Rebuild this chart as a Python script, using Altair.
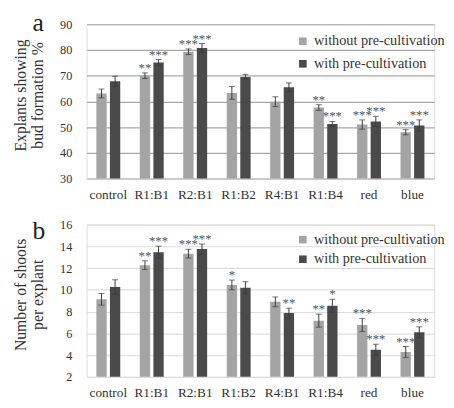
import altair as alt
import pandas as pd

categories = ["control", "R1:B1", "R2:B1", "R1:B2", "R4:B1", "R1:B4", "red", "blue"]
series = ["without pre-cultivation", "with pre-cultivation"]

# Panel a: explants showing bud formation %
a_without = [63.1, 70.0, 79.3, 63.3, 59.9, 57.6, 51.0, 48.0]
a_with = [67.8, 75.1, 80.8, 69.5, 65.5, 51.2, 52.2, 50.6]
a_without_err = [1.7, 1.1, 1.1, 2.5, 1.9, 1.1, 1.8, 1.0]
a_with_err = [2.0, 1.2, 1.7, 1.0, 1.7, 1.0, 2.0, 2.2]
a_without_sig = ["", "**", "***", "", "", "**", "***", "***"]
a_with_sig = ["", "***", "***", "", "", "***", "***", "***"]

# Panel b: number of shoots per explant
b_without = [9.13, 12.27, 13.33, 10.45, 8.9, 7.17, 6.78, 4.29]
b_with = [10.27, 13.47, 13.77, 10.2, 7.87, 8.54, 4.5, 6.1]
b_without_err = [0.53, 0.4, 0.4, 0.45, 0.45, 0.6, 0.6, 0.5]
b_with_err = [0.66, 0.55, 0.45, 0.55, 0.45, 0.6, 0.5, 0.5]
b_without_sig = ["", "**", "***", "*", "", "**", "***", "***"]
b_with_sig = ["", "***", "***", "", "**", "*", "***", "***"]

FONT = "Liberation Serif"
LIGHT = "#a4a4a4"
DARK = "#4a4a4a"
W = 354


def build_df(wo, w, wo_e, w_e, wo_s, w_s):
    rows = []
    for i, c in enumerate(categories):
        for s, v, e, sig in ((series[0], wo[i], wo_e[i], wo_s[i]), (series[1], w[i], w_e[i], w_s[i])):
            rows.append({"category": c, "series": s, "value": v,
                         "lo": v - e, "hi": v + e, "sig": sig})
    return pd.DataFrame(rows)


def panel(df, domain, ticks, ytitle, letter, letter_y, grid_color, height, legend_y, row_pad):
    x_axis = alt.Axis(labelAngle=0, labelFont=FONT, labelFontSize=13.5,
                      labelColor="#333333", labelPadding=9, ticks=False,
                      domain=False, grid=False, title=None)
    x_scale = alt.Scale(paddingInner=0.45, paddingOuter=0.225)
    xo = alt.XOffset("series:N", sort=series,
                     scale=alt.Scale(paddingInner=0.24, paddingOuter=0))
    y_scale = alt.Scale(domain=domain, zero=False, nice=False)
    y_axis = alt.Axis(values=ticks, labelFont=FONT, labelFontSize=12.5,
                      labelColor="#333333", labelPadding=15, ticks=False,
                      domain=False, gridColor=grid_color, gridWidth=1.2,
                      title=None, labelOverlap=False)

    def X():
        return alt.X("category:N", sort=categories, scale=x_scale, axis=x_axis, title=None)

    def Y(field):
        return alt.Y(field, type="quantitative", scale=y_scale, axis=y_axis, title=None)

    base = alt.Chart(df)
    bars = base.mark_bar(clip=True).encode(
        x=X(), xOffset=xo, y=Y("value"),
        color=alt.Color("series:N", sort=series,
                        scale=alt.Scale(domain=series, range=[LIGHT, DARK]),
                        legend=alt.Legend(title=None, orient="none", legendX=213,
                                          legendY=legend_y, symbolType="square",
                                          symbolSize=60, labelFont=FONT,
                                          labelFontSize=14.5, labelColor="#333333",
                                          rowPadding=row_pad, labelOffset=4)),
    )
    rule = base.mark_rule(color="#3a3a3a", strokeWidth=1).encode(
        x=X(), xOffset=xo, y=Y("lo"), y2="hi:Q")
    cap_hi = base.mark_tick(color="#3a3a3a", thickness=1, size=6).encode(
        x=X(), xOffset=xo, y=Y("hi"))
    cap_lo = base.mark_tick(color="#3a3a3a", thickness=1, size=6).encode(
        x=X(), xOffset=xo, y=Y("lo"))
    stars = base.mark_text(font=FONT, fontSize=13, color="#555555",
                           baseline="alphabetic", dy=-1).encode(
        x=X(), xOffset=xo, y=Y("hi"), text="sig:N")
    t1 = alt.Chart(pd.DataFrame({"t": [ytitle[0]]})).mark_text(
        font=FONT, fontSize=16, color="#333333", angle=270, align="center",
        baseline="middle").encode(
        text="t:N", x=alt.value(-67), y=alt.value(height / 2 - 6))
    t2 = alt.Chart(pd.DataFrame({"t": [ytitle[1]]})).mark_text(
        font=FONT, fontSize=16, color="#333333", angle=270, align="center",
        baseline="middle").encode(
        text="t:N", x=alt.value(-49), y=alt.value(height / 2 - 6))
    lab = alt.Chart(pd.DataFrame({"t": [letter]})).mark_text(
        font=FONT, fontSize=26, color="#222222", align="left",
        baseline="alphabetic").encode(
        text="t:N", x=alt.value(-55), y=alt.value(letter_y))
    return alt.layer(bars, rule, cap_hi, cap_lo, stars, t1, t2, lab).properties(
        width=W, height=height)


df_a = build_df(a_without, a_with, a_without_err, a_with_err, a_without_sig, a_with_sig)
df_b = build_df(b_without, b_with, b_without_err, b_with_err, b_without_sig, b_with_sig)

pa = panel(df_a, [30, 90], [30, 40, 50, 60, 70, 80, 90],
           ["Explants showing", "bud formation %"], "a", 7, "#a8a8a8", 157, 10, 8)
pb = panel(df_b, [2, 16], [2, 4, 6, 8, 10, 12, 14, 16],
           ["Number of shoots", "per explant"], "b", 15, "#dddddd", 155, 8, 5)

chart = alt.vconcat(pa, pb, spacing=17).resolve_scale(
    color="independent", y="independent").resolve_legend(
    color="independent").configure_view(stroke=None).configure_axis(
    labelFont=FONT, titleFont=FONT).configure_legend(labelFont=FONT).configure_text(
    font=FONT).configure(background="white").properties(
    padding={"top": -2, "left": 4, "right": 0, "bottom": -2})

chart.save("out.html", embed_options={"renderer": "svg", "actions": False})
